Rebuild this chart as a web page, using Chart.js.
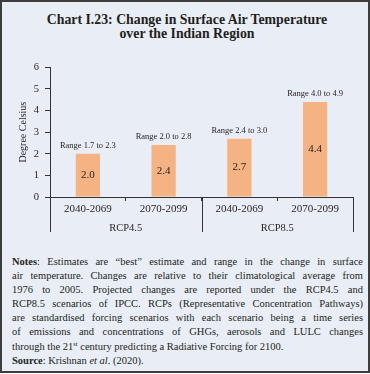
<!DOCTYPE html>
<html>
<head>
<meta charset="utf-8">
<script src="https://cdn.jsdelivr.net/npm/chart.js@4.4.1/dist/chart.umd.min.js"></script>
<style>
  html, body { margin: 0; padding: 0; background: #fff; }
  #frame {
    position: absolute; left: 0; top: 0; width: 366px; height: 369px;
    border: 2px solid #3d3d3d; background: #e9eef6; overflow: hidden;
    font-family: "Liberation Serif", serif; color: #231f20;
  }
  #title {
    position: absolute; left: 0; top: 11px; width: 370px; text-align: center;
    font-weight: bold; font-size: 13.8px; line-height: 14px;
  }
  #chartBox { position: absolute; left: -2px; top: 53px; width: 370px; height: 190px; }
  #notes {
    position: absolute; left: 10px; top: 253px; width: 351px;
    font-size: 10.5px; line-height: 14.1px;
  }
  #notes div { white-space: nowrap; text-align: justify; text-align-last: justify; height: 14.1px; }
  #notes div.last { text-align-last: left; }
  #notes sup { font-size: 6.5px; line-height: 0; vertical-align: 4px; }
</style>
</head>
<body>
<div id="frame">
  <div id="title">Chart I.23: Change in Surface Air Temperature<br>over the Indian Region</div>
  <div id="chartBox"><canvas id="tempChart" width="370" height="190"></canvas></div>
  <div id="notes">
    <div><b>Notes</b>: Estimates are “best” estimate and range in the change in surface</div>
    <div>air temperature. Changes are relative to their climatological average from</div>
    <div>1976 to 2005. Projected changes are reported under the RCP4.5 and</div>
    <div>RCP8.5 scenarios of IPCC. RCPs (Representative Concentration Pathways)</div>
    <div>are standardised forcing scenarios with each scenario being a time series</div>
    <div>of emissions and concentrations of GHGs, aerosols and LULC changes</div>
    <div class="last">through the 21<sup>st</sup> century predicting a Radiative Forcing for 2100.</div>
    <div class="last"><b>Source</b>: Krishnan <i>et al</i>. (2020).</div>
  </div>
</div>
<script>
// données du graphique
const periods = ['2040-2069', '2070-2099', '2040-2069', '2070-2099'];
const scenarios = ['RCP4.5', 'RCP8.5'];
const bestEstimate = [2.0, 2.4, 2.7, 4.4];
const rangeLow = [1.7, 2.0, 2.4, 4.0];
const rangeHigh = [2.3, 2.8, 3.0, 4.9];
const yMin = 0;
const yMax = 6;

const FONT = '"Liberation Serif", serif';
const INK = '#231f20';

// étiquettes des barres : valeur au centre, plage au-dessus
const barLabels = {
  id: 'barLabels',
  afterDatasetsDraw(chart) {
    const ctx = chart.ctx;
    const meta = chart.getDatasetMeta(0);
    ctx.save();
    ctx.fillStyle = INK;
    ctx.textAlign = 'center';
    ctx.textBaseline = 'middle';
    meta.data.forEach((bar, i) => {
      ctx.font = '11px ' + FONT;
      ctx.fillText(bestEstimate[i].toFixed(1), bar.x, (bar.y + bar.base) / 2);
      ctx.font = '8.5px ' + FONT;
      ctx.fillText('Range ' + rangeLow[i].toFixed(1) + ' to ' + rangeHigh[i].toFixed(1), bar.x, bar.y - 8);
    });
    ctx.restore();
  }
};

// séparateurs et libellés des scénarios sous l'axe x
const scenarioAxis = {
  id: 'scenarioAxis',
  afterDraw(chart) {
    const ctx = chart.ctx;
    const x = chart.scales.x;
    const area = chart.chartArea;
    const per = periods.length / scenarios.length;
    const half = (x.getPixelForValue(1) - x.getPixelForValue(0)) / 2;
    ctx.save();
    ctx.strokeStyle = '#333';
    ctx.lineWidth = 1;
    for (let g = 0; g <= scenarios.length; g++) {
      const idx = Math.min(g * per, periods.length - 1);
      let px = g * per < periods.length ? x.getPixelForValue(idx) - half : x.getPixelForValue(idx) + half;
      px = Math.round(px) + 0.5;
      ctx.beginPath();
      ctx.moveTo(px, area.bottom);
      ctx.lineTo(px, area.bottom + 35);
      ctx.stroke();
    }
    ctx.fillStyle = INK;
    ctx.font = '10.5px ' + FONT;
    ctx.textAlign = 'center';
    ctx.textBaseline = 'middle';
    scenarios.forEach((s, g) => {
      const a = x.getPixelForValue(g * per);
      const b = x.getPixelForValue(g * per + per - 1);
      ctx.fillText(s, (a + b) / 2, area.bottom + 31);
    });
    ctx.restore();
  }
};

new Chart(document.getElementById('tempChart'), {
  type: 'bar',
  data: {
    labels: periods,
    datasets: [{
      data: bestEstimate,
      backgroundColor: '#f5b282',
      borderWidth: 0,
      categoryPercentage: 1,
      barPercentage: 0.32
    }]
  },
  options: {
    responsive: false,
    animation: false,
    layout: { padding: { top: 12, right: 17, left: 0, bottom: 0 } },
    plugins: {
      legend: { display: false },
      tooltip: { enabled: false }
    },
    scales: {
      x: {
        afterFit(scale) { scale.height = 48; },
        grid: { display: true, drawOnChartArea: false, offset: true, tickLength: 4, color: '#333' },
        border: { display: true, color: '#333', width: 1 },
        ticks: { color: INK, font: { family: FONT, size: 11 }, padding: 2 }
      },
      y: {
        min: yMin,
        max: yMax,
        afterFit(scale) { scale.width = 50; },
        grid: { display: true, drawOnChartArea: false, tickLength: 5, color: '#333' },
        border: { display: true, color: '#333', width: 1 },
        ticks: { stepSize: 1, color: INK, font: { family: FONT, size: 10.5 }, padding: 6 },
        title: {
          display: true,
          text: 'Degree Celsius',
          color: INK,
          font: { family: FONT, size: 10 },
          padding: { top: 17, bottom: 0 }
        }
      }
    }
  },
  plugins: [barLabels, scenarioAxis]
});
</script>
</body>
</html>
